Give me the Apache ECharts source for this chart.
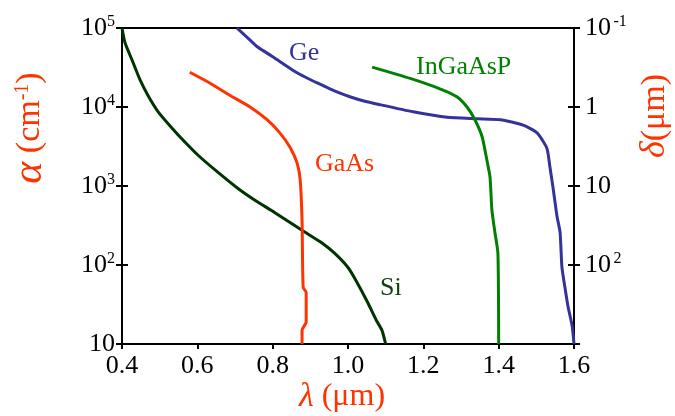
<!doctype html>
<html>
<head>
    <meta charset="utf-8">
    <title>absorption</title>
    <script src="https://cdn.jsdelivr.net/npm/echarts@6/dist/echarts.min.js"></script>
</head>
<body style="margin:0;background:#fff;">
<div id="chart" style="width:675px;height:416px;"></div>
<script type="text/javascript">
    // wavelength (um) / absorption coefficient (cm^-1)
    var siX = [0.40, 0.408, 0.427, 0.448, 0.469, 0.496, 0.533, 0.567, 0.602, 0.647, 0.708, 0.753, 0.806, 0.878, 0.931, 0.965, 1.00, 1.02, 1.053, 1.075, 1.09, 1.10];
    var siY = [100000, 65000, 39000, 22000, 14000, 8700, 5400, 3600, 2450, 1600, 930, 660, 460, 275, 190, 140, 93, 65, 33, 20, 15, 10];

    var gaasX = [0.58, 0.634, 0.687, 0.74, 0.785, 0.819, 0.846, 0.865, 0.873, 0.878, 0.881, 0.889, 0.889, 0.878, 0.878];
    var gaasY = [27500, 20000, 14000, 10000, 6900, 4700, 3100, 1950, 1200, 370, 52, 45, 19, 15, 10];

    var geX = [0.705, 0.735, 0.761, 0.798, 0.825, 0.86, 0.886, 0.92, 0.952, 0.979, 1.005, 1.04, 1.085, 1.173, 1.263, 1.343, 1.404, 1.465, 1.502, 1.528, 1.536, 1.544, 1.555, 1.563, 1.568, 1.576, 1.584, 1.595, 1.60];
    var geY = [100000, 74000, 57000, 44000, 36000, 28000, 24000, 20000, 17000, 15000, 13500, 12000, 10700, 8700, 7400, 7100, 6900, 5900, 4700, 3000, 1750, 980, 410, 260, 93, 52, 30, 17, 10];

    var ingaaspX = [1.064, 1.165, 1.244, 1.289, 1.316, 1.337, 1.356, 1.369, 1.377, 1.382, 1.39, 1.398, 1.40];
    var ingaaspY = [32000, 23000, 17000, 13500, 10000, 6900, 4200, 2100, 1300, 500, 260, 140, 10];

    // right axis: penetration depth (um) = 1e4 / alpha
    var depthLabels = {100000: '10{sp| }{sup|-1}', 10000: '1', 1000: '10', 100: '10{sp| }{sup|2}'};

    function pairs(xs, ys) {
        var out = [];
        for (var i = 0; i < xs.length; i++) out.push([xs[i], ys[i]]);
        return out;
    }

    var FONT = '"Liberation Serif", "DejaVu Serif", serif';
    var RED = '#ff3300';
    var supRich = {
        sup: {fontSize: 16, fontFamily: FONT, color: '#000', padding: [0, 0, 12, 0]},
        sp: {fontSize: 10, fontFamily: FONT}
    };

    function leftLabel(v) {
        var e = Math.round(Math.log(v) / Math.LN10);
        if (e === 1) return '10';
        return '10{sup|' + e + '}';
    }

    function yAx(pos, showLabel, inside, fmt) {
        return {
            type: 'log', logBase: 10, min: 10, max: 100000, position: pos,
            axisLine: {show: true, lineStyle: {color: '#000', width: 2}},
            axisTick: {show: true, inside: inside, length: 6, lineStyle: {color: '#000', width: 2}},
            splitLine: {show: false},
            axisLabel: {
                show: showLabel, fontSize: 26, fontFamily: FONT, color: '#000',
                margin: pos === 'left' ? 7 : 11, formatter: fmt, rich: supRich
            }
        };
    }

    function line(name, xs, ys, color) {
        return {
            name: name, type: 'line', xAxisIndex: 0, yAxisIndex: 0,
            data: pairs(xs, ys), showSymbol: false, smooth: 0.2,
            lineStyle: {color: color, width: 3}, z: 3
        };
    }

    function note(text, x, y, color) {
        return {type: 'text', left: x, top: y,
            style: {text: text, fill: color, font: '26px ' + FONT}};
    }

    var chart = echarts.init(document.getElementById('chart'));
    chart.setOption({
        animation: false,
        grid: {left: 122, right: 101, top: 28, bottom: 72, show: true, borderColor: '#000', borderWidth: 2},
        xAxis: [{
            type: 'value', min: 0.4, max: 1.6, interval: 0.2,
            axisLine: {show: true, onZero: false, lineStyle: {color: '#000', width: 2}},
            axisTick: {show: true, length: 5, lineStyle: {color: '#000', width: 2}},
            splitLine: {show: false},
            axisLabel: {fontSize: 26, fontFamily: FONT, color: '#000', margin: 9,
                formatter: function (v) { return v.toFixed(1); }}
        }],
        yAxis: [
            yAx('left', true, false, leftLabel),
            yAx('right', true, false, function (v) { return depthLabels[Math.round(v)] || ''; }),
            yAx('left', false, true),
            yAx('right', false, true)
        ],
        series: [
            line('Si', siX, siY, '#003300'),
            line('GaAs', gaasX, gaasY, RED),
            line('Ge', geX, geY, '#333399'),
            line('InGaAsP', ingaaspX, ingaaspY, '#008000')
        ],
        graphic: [
            note('Ge', 289, 40, '#333399'),
            note('InGaAsP', 416, 54, '#008000'),
            note('GaAs', 315, 151, RED),
            note('Si', 380, 275, '#124012'),
            {type: 'text', x: 342, y: 397,
                style: {text: '{it|λ} (μm)', fill: RED, font: '32px ' + FONT, align: 'center', verticalAlign: 'middle',
                    rich: {it: {font: 'italic 34px ' + FONT, fill: RED}}}},
            {type: 'text', x: 30, y: 128, rotation: Math.PI / 2,
                style: {text: '{it|α} (cm{sup|-1})', fill: RED, font: '34px ' + FONT, align: 'center', verticalAlign: 'middle',
                    rich: {it: {font: 'italic 42px ' + FONT, fill: RED},
                        sup: {font: '20px ' + FONT, fill: RED, padding: [0, 0, 14, 0]}}}},
            {type: 'text', x: 655, y: 116, rotation: Math.PI / 2,
                style: {text: '{it|δ}(μm)', fill: RED, font: '34px ' + FONT, align: 'center', verticalAlign: 'middle',
                    rich: {it: {font: 'italic 36px ' + FONT, fill: RED}}}}
        ]
    });
</script>
</body>
</html>
